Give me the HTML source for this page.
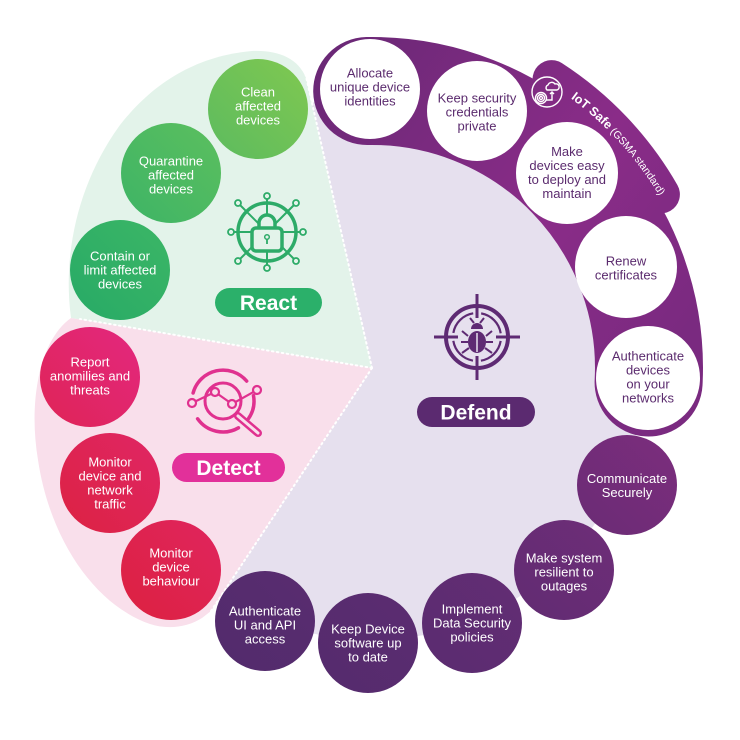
<!DOCTYPE html>
<html><head><meta charset="utf-8"><style>
html,body{margin:0;padding:0;background:#fff;}
svg{display:block;}
text{font-family:"Liberation Sans",sans-serif;}
</style></head><body>
<svg width="740" height="740" viewBox="0 0 740 740" xmlns="http://www.w3.org/2000/svg">
<defs>
<linearGradient id="band" gradientUnits="userSpaceOnUse" x1="320" y1="60" x2="690" y2="330">
<stop offset="0" stop-color="#6a2876"/><stop offset="0.6" stop-color="#8a2c88"/><stop offset="1" stop-color="#7a2a80"/></linearGradient>
<linearGradient id="g1" x1="1" y1="0" x2="0" y2="1"><stop offset="0" stop-color="#80c850"/><stop offset="1" stop-color="#5cbb5f"/></linearGradient>
<linearGradient id="g2" x1="1" y1="0" x2="0" y2="1"><stop offset="0" stop-color="#5cbf5e"/><stop offset="1" stop-color="#3db466"/></linearGradient>
<linearGradient id="g3" x1="1" y1="0" x2="0" y2="1"><stop offset="0" stop-color="#3cb666"/><stop offset="1" stop-color="#27aa66"/></linearGradient>
<linearGradient id="r1" x1="1" y1="0" x2="0" y2="1"><stop offset="0" stop-color="#e3287f"/><stop offset="1" stop-color="#df2456"/></linearGradient>
<linearGradient id="r2" x1="1" y1="0" x2="0" y2="1"><stop offset="0" stop-color="#e02665"/><stop offset="1" stop-color="#dc2242"/></linearGradient>
<linearGradient id="r3" x1="1" y1="0" x2="0" y2="1"><stop offset="0" stop-color="#e0255e"/><stop offset="1" stop-color="#dc2140"/></linearGradient>
<linearGradient id="p1" x1="1" y1="0" x2="0" y2="1"><stop offset="0" stop-color="#7c2d7d"/><stop offset="1" stop-color="#6a2c75"/></linearGradient>
<linearGradient id="p2" x1="1" y1="0" x2="0" y2="1"><stop offset="0" stop-color="#6e2d78"/><stop offset="1" stop-color="#612c72"/></linearGradient>
<linearGradient id="p3" x1="1" y1="0" x2="0" y2="1"><stop offset="0" stop-color="#632d74"/><stop offset="1" stop-color="#5a2c70"/></linearGradient>
<linearGradient id="p4" x1="1" y1="0" x2="0" y2="1"><stop offset="0" stop-color="#5b2c71"/><stop offset="1" stop-color="#552b6d"/></linearGradient>
<linearGradient id="p5" x1="1" y1="0" x2="0" y2="1"><stop offset="0" stop-color="#592c70"/><stop offset="1" stop-color="#522b6c"/></linearGradient>
<path id="iotpath" d="M564.2,93.6 A335,335 0 0 1 675.6,226.4"/>
</defs>

<!-- lavender disc -->
<circle cx="372" cy="368" r="272" fill="#e6e0ee"/>
<!-- green wedge -->
<path d="M372,368 L306,78 C298,58 278,50 252,51 C195,56 152,84 120,125 C80,180 62,250 71,318 Z" fill="#e3f3ea"/>
<!-- pink wedge -->
<path d="M372,368 L71,318 C40,340 28,400 38,460 C50,540 95,605 150,624 C168,630 188,627 202,618 L211,611 Z" fill="#f9dfeb"/>
<!-- dotted lines -->
<g stroke="#ffffff" stroke-width="2" stroke-dasharray="1.5 3.5" stroke-linecap="round" fill="none">
<line x1="372" y1="368" x2="305" y2="72"/>
<line x1="372" y1="368" x2="80" y2="319"/>
<line x1="372" y1="368" x2="211" y2="611"/>
</g>

<!-- IoT Safe band -->
<path d="M551.6,79.1 A337,337 0 0 1 660.9,194.4" fill="none" stroke="url(#band)" stroke-width="38" stroke-linecap="round"/>
<path d="M367.2,91 A277,277 0 0 1 648.6,382.5" fill="none" stroke="url(#band)" stroke-width="108" stroke-linecap="round"/>

<!-- IoT icon -->
<g fill="none" stroke="#ffffff" stroke-width="1.4">
<circle cx="547" cy="92" r="15"/>
<path d="M547,90 a3,3 0 0 1 1-5 a4,4 0 0 1 7-1 a3,3 0 0 1 2,6 Z"/>
<path d="M552,92 v8 h-6 M550,94 l2,-2 l2,2"/>
<circle cx="541" cy="98" r="1.5"/><circle cx="541" cy="98" r="3.5"/><circle cx="541" cy="98" r="5.5"/>
</g>
<text font-size="12.5" fill="#ffffff"><textPath href="#iotpath" startOffset="8"><tspan font-weight="bold">IoT Safe</tspan><tspan font-size="10.5"> (GSMA standard)</tspan></textPath></text>

<!-- band circles -->
<g fill="#ffffff">
<circle cx="370" cy="89" r="50"/>
<circle cx="477" cy="111" r="50"/>
<circle cx="567" cy="173" r="51"/>
<circle cx="626" cy="267" r="51"/>
<circle cx="648" cy="378" r="52"/>
</g>
<g font-size="13" fill="#5b2b6e" text-anchor="middle">
<text x="370" y="77.5">Allocate</text><text x="370" y="91.5">unique device</text><text x="370" y="105.5">identities</text>
<text x="477" y="102.5">Keep security</text><text x="477" y="116.5">credentials</text><text x="477" y="130.5">private</text>
<text x="567" y="156">Make</text><text x="567" y="170">devices easy</text><text x="567" y="184">to deploy and</text><text x="567" y="198">maintain</text>
<text x="626" y="265.5">Renew</text><text x="626" y="279.5">certificates</text>
<text x="648" y="360.5">Authenticate</text><text x="648" y="374.5">devices</text><text x="648" y="388.5">on your</text><text x="648" y="402.5">networks</text>
</g>

<!-- bottom purple circles -->
<circle cx="627" cy="485" r="50" fill="url(#p1)"/>
<circle cx="564" cy="570" r="50" fill="url(#p2)"/>
<circle cx="472" cy="623" r="50" fill="url(#p3)"/>
<circle cx="368" cy="643" r="50" fill="url(#p4)"/>
<circle cx="265" cy="621" r="50" fill="url(#p5)"/>
<g font-size="13" fill="#ffffff" text-anchor="middle">
<text x="627" y="483">Communicate</text><text x="627" y="497">Securely</text>
<text x="564" y="562.5">Make system</text><text x="564" y="576.5">resilient to</text><text x="564" y="590.5">outages</text>
<text x="472" y="613.5">Implement</text><text x="472" y="627.5">Data Security</text><text x="472" y="641.5">policies</text>
<text x="368" y="633.5">Keep Device</text><text x="368" y="647.5">software up</text><text x="368" y="661.5">to date</text>
<text x="265" y="615.5">Authenticate</text><text x="265" y="629.5">UI and API</text><text x="265" y="643.5">access</text>
</g>

<!-- red circles -->
<circle cx="90" cy="377" r="50" fill="url(#r1)"/>
<circle cx="110" cy="483" r="50" fill="url(#r2)"/>
<circle cx="171" cy="570" r="50" fill="url(#r3)"/>
<g font-size="13" fill="#ffffff" text-anchor="middle">
<text x="90" y="366.5">Report</text><text x="90" y="380.5">anomilies and</text><text x="90" y="394.5">threats</text>
<text x="110" y="466.5">Monitor</text><text x="110" y="480.5">device and</text><text x="110" y="494.5">network</text><text x="110" y="508.5">traffic</text>
<text x="171" y="557.5">Monitor</text><text x="171" y="571.5">device</text><text x="171" y="585.5">behaviour</text>
</g>

<!-- green circles -->
<circle cx="258" cy="109" r="50" fill="url(#g1)"/>
<circle cx="171" cy="173" r="50" fill="url(#g2)"/>
<circle cx="120" cy="270" r="50" fill="url(#g3)"/>
<g font-size="13" fill="#ffffff" text-anchor="middle">
<text x="258" y="96.5">Clean</text><text x="258" y="110.5">affected</text><text x="258" y="124.5">devices</text>
<text x="171" y="165.5">Quarantine</text><text x="171" y="179.5">affected</text><text x="171" y="193.5">devices</text>
<text x="120" y="260.5">Contain or</text><text x="120" y="274.5">limit affected</text><text x="120" y="288.5">devices</text>
</g>

<!-- React icon -->
<g stroke="#2dab68" fill="none">
<g stroke-width="2">
<line x1="267" y1="232" x2="267" y2="196"/><line x1="267" y1="232" x2="267" y2="268"/>
<line x1="267" y1="232" x2="231" y2="232"/><line x1="267" y1="232" x2="303" y2="232"/>
<line x1="267" y1="232" x2="238" y2="203"/><line x1="267" y1="232" x2="296" y2="203"/>
<line x1="267" y1="232" x2="238" y2="261"/><line x1="267" y1="232" x2="296" y2="261"/>
</g>
<circle cx="267" cy="232" r="29" stroke-width="3.5"/>
<g stroke-width="1.8" fill="#e3f3ea">
<circle cx="267" cy="196" r="3"/><circle cx="267" cy="268" r="3"/><circle cx="231" cy="232" r="3"/><circle cx="303" cy="232" r="3"/>
<circle cx="238" cy="203" r="3"/><circle cx="296" cy="203" r="3"/><circle cx="238" cy="261" r="3"/><circle cx="296" cy="261" r="3"/>
</g>
<path d="M259,230 V223 A8,8 0 0 1 275,223 V230 Z" fill="#e3f3ea" stroke-width="3.5"/>
<rect x="252" y="228" width="30" height="23" rx="4" fill="#e3f3ea" stroke-width="3.5"/>
<circle cx="267" cy="237" r="2.3" stroke-width="1.5"/>
<line x1="267" y1="239.5" x2="267" y2="244" stroke-width="1.8"/>
</g>
<rect x="215" y="288" width="107" height="29" rx="14.5" fill="#2bb06a"/>
<text x="268.5" y="310" font-size="21" font-weight="bold" fill="#ffffff" text-anchor="middle">React</text>

<!-- Detect icon -->
<g stroke="#e0318f" fill="none" stroke-linecap="round">
<path d="M193.1,393 A31,31 0 0 1 246.7,381.1" stroke-width="3.5"/>
<path d="M253.5,395.6 A31,31 0 0 1 248.4,418.8" stroke-width="3.5"/>
<path d="M238.5,427.8 A31,31 0 0 1 197.6,418.8" stroke-width="3.5"/>
<circle cx="223" cy="401" r="18" stroke-width="3"/>
<line x1="238" y1="416" x2="258" y2="433" stroke-width="8"/>
<line x1="238" y1="416" x2="258" y2="433" stroke-width="3" stroke="#f9dfeb"/>
<polyline points="192,403 215,392 232,404 257,390" stroke-width="2.2"/>
<g fill="#f9dfeb" stroke-width="2.2">
<circle cx="192" cy="403" r="4"/><circle cx="215" cy="392" r="4"/><circle cx="232" cy="404" r="4"/><circle cx="257" cy="390" r="4"/>
</g>
</g>
<rect x="172" y="453" width="113" height="29" rx="14.5" fill="#e2309a"/>
<text x="228.5" y="475" font-size="21" font-weight="bold" fill="#ffffff" text-anchor="middle">Detect</text>

<!-- Defend icon -->
<g stroke="#5e2a73" fill="none">
<circle cx="477" cy="337" r="31" stroke-width="4"/>
<circle cx="477" cy="337" r="24" stroke-width="2.2" stroke-dasharray="29.7 8" stroke-dashoffset="-4"/>
<g stroke-width="3">
<line x1="477" y1="294" x2="477" y2="318"/><line x1="477" y1="356" x2="477" y2="380"/>
<line x1="434" y1="337" x2="458" y2="337"/><line x1="496" y1="337" x2="520" y2="337"/>
</g>
<g stroke-width="2">
<line x1="468" y1="336" x2="462" y2="331"/><line x1="468" y1="342" x2="461" y2="342"/><line x1="469" y1="348" x2="462" y2="353"/>
<line x1="486" y1="336" x2="492" y2="331"/><line x1="486" y1="342" x2="493" y2="342"/><line x1="485" y1="348" x2="492" y2="353"/>
<line x1="474" y1="323" x2="470" y2="318"/><line x1="480" y1="323" x2="484" y2="318"/>
</g>
</g>
<path d="M471,329 A6,6 0 0 1 483,329 Z" fill="#5e2a73"/>
<ellipse cx="477" cy="342" rx="9" ry="11" fill="#5e2a73"/>
<line x1="477" y1="333" x2="477" y2="352" stroke="#e6e0ee" stroke-width="1.5"/>
<rect x="417" y="397" width="118" height="30" rx="15" fill="#5b2a70"/>
<text x="476" y="419.5" font-size="21" font-weight="bold" fill="#ffffff" text-anchor="middle">Defend</text>
</svg>
</body></html>
